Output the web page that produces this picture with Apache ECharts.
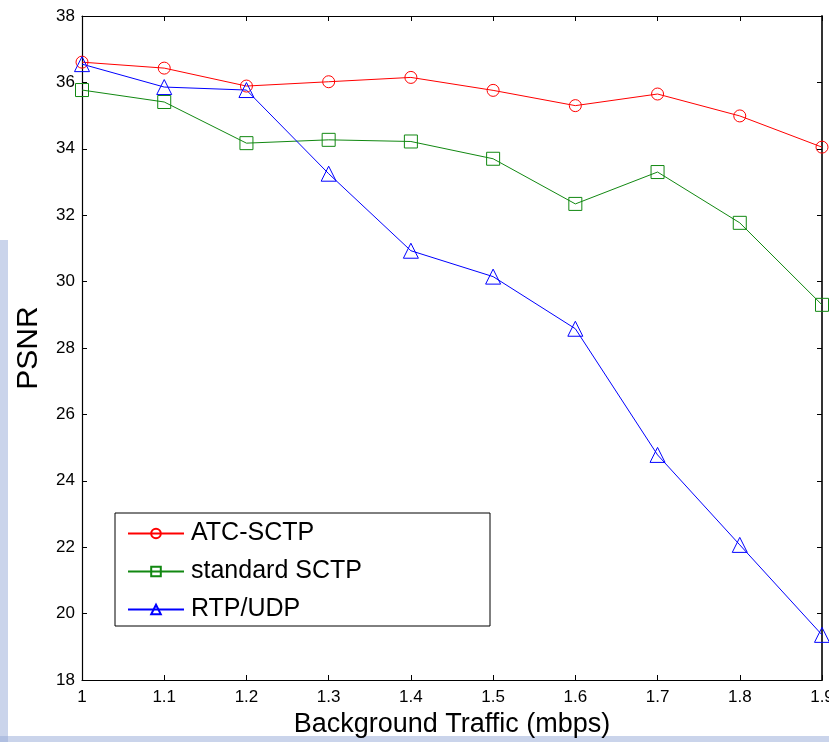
<!DOCTYPE html>
<html>
<head>
<meta charset="utf-8">
<script src="https://cdn.jsdelivr.net/npm/echarts@6/dist/echarts.min.js"></script>
<style>
html,body{margin:0;padding:0;background:#fff;}
#chart{width:829px;height:742px;}
</style>
</head>
<body>
<div id="chart"></div>
<script>
const traffic = [1.0, 1.1, 1.2, 1.3, 1.4, 1.5, 1.6, 1.7, 1.8, 1.9];
const atcSctp = [36.61, 36.43, 35.89, 36.02, 36.15, 35.76, 35.30, 35.65, 34.99, 34.05];
const standardSctp = [35.77, 35.41, 34.17, 34.27, 34.22, 33.70, 32.34, 33.30, 31.77, 29.30];
const rtpUdp = [36.55, 35.86, 35.77, 33.25, 30.93, 30.15, 28.58, 24.78, 22.07, 19.36];
const seriesNames = ['ATC-SCTP', 'standard SCTP', 'RTP/UDP'];
const yTicks = [18, 20, 22, 24, 26, 28, 30, 32, 34, 36, 38];

const FONT = '"Liberation Sans", Arial, sans-serif';
const pairs = arr => traffic.map((x, i) => [x, arr[i]]);

function mkSeries(name, data, color, symbol, size) {
  return {
    name: name,
    type: 'line',
    data: pairs(data),
    color: color,
    symbol: symbol,
    symbolSize: size,
    showAllSymbol: true,
    lineStyle: { color: color, width: 1 },
    itemStyle: { color: 'rgba(255,255,255,0)', borderColor: color, borderWidth: 1 },
    emphasis: { disabled: true },
    animation: false,
    z: 3
  };
}

const chart = echarts.init(document.getElementById('chart'), null, { renderer: 'canvas' });
const axisCommon = {
  type: 'value',
  splitLine: { show: false },
  axisTick: { show: true, inside: true, length: 5, lineStyle: { color: '#000', width: 1 } },
  axisLine: { show: true, onZero: false, lineStyle: { color: '#000', width: 1.2 } }
};

chart.setOption({
  backgroundColor: '#fff',
  animation: false,
  grid: { left: 82, top: 16, right: 7, bottom: 62, containLabel: false, outerBoundsMode: 'none' },
  xAxis: [
    Object.assign({}, axisCommon, {
      position: 'bottom', min: 1, max: 1.9, interval: 0.1,
      name: 'Background Traffic (mbps)', nameLocation: 'middle', nameGap: 29,
      nameTextStyle: { fontFamily: FONT, fontSize: 27, color: '#000' },
      axisLabel: { fontFamily: FONT, fontSize: 17, color: '#000', margin: 9,
        formatter: v => String(+v.toFixed(1)), showMaxLabel: true, showMinLabel: true }
    }),
    Object.assign({}, axisCommon, {
      position: 'top', min: 1, max: 1.9, interval: 0.1,
      axisLabel: { show: false }
    })
  ],
  yAxis: [
    Object.assign({}, axisCommon, {
      position: 'left', min: yTicks[0], max: yTicks[yTicks.length - 1], interval: 2,
      name: 'PSNR', nameLocation: 'middle', nameGap: 38, nameRotate: 90,
      nameTextStyle: { fontFamily: FONT, fontSize: 30, color: '#000' },
      axisLabel: { fontFamily: FONT, fontSize: 17, color: '#000', margin: 7 }
    }),
    Object.assign({}, axisCommon, {
      position: 'right', min: yTicks[0], max: yTicks[yTicks.length - 1], interval: 2,
      axisLabel: { show: false },
      axisLine: { show: true, onZero: false, lineStyle: { color: '#333', width: 2 } }
    })
  ],
  legend: {
    orient: 'vertical',
    left: 127, top: 521,
    padding: 0,
    itemWidth: 56, itemHeight: 12,
    itemGap: 13,
    data: seriesNames,
    textStyle: { fontFamily: FONT, fontSize: 25, color: '#000', lineHeight: 25, padding: [0, 0, 0, 2] },
    selectedMode: false
  },
  graphic: [
    { type: 'rect', shape: { x: 115, y: 513, width: 375, height: 113 },
      style: { fill: 'none', stroke: '#000', lineWidth: 1 }, z: 10, silent: true },
    { type: 'rect', shape: { x: 0, y: 240, width: 8, height: 502 },
      style: { fill: 'rgba(150,170,215,0.5)' }, z: -1, silent: true },
    { type: 'rect', shape: { x: 0, y: 736, width: 829, height: 6 },
      style: { fill: 'rgba(150,170,215,0.5)' }, z: -1, silent: true }
  ],
  series: [
    mkSeries(seriesNames[0], atcSctp, '#ff0000', 'circle', 12),
    mkSeries(seriesNames[1], standardSctp, '#118811', 'rect', 13),
    mkSeries(seriesNames[2], rtpUdp, '#0000ff', 'triangle', 15)
  ]
});
</script>
</body>
</html>
